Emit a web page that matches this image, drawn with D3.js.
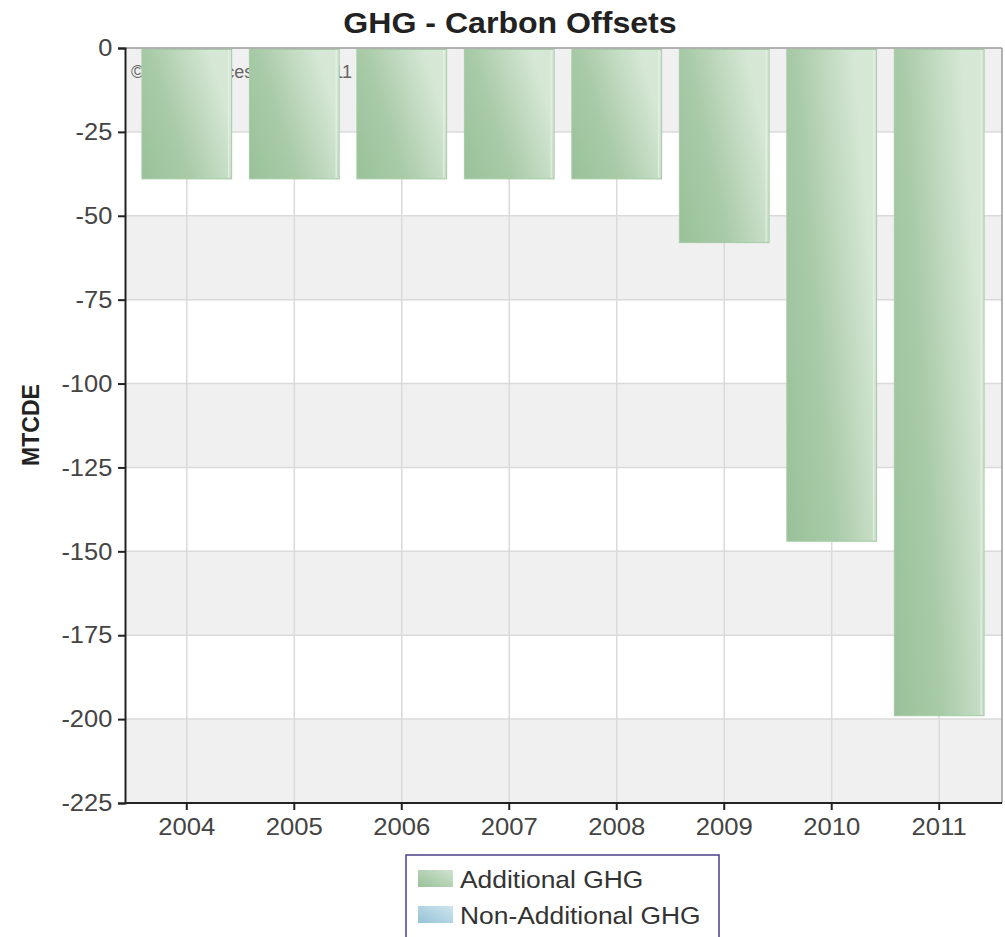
<!DOCTYPE html>
<html>
<head>
<meta charset="utf-8">
<script src="https://cdn.jsdelivr.net/npm/d3@7"></script>
<style>
  body { margin: 0; background: #fff; }
  svg { display: block; font-family: "Liberation Sans", Arial, sans-serif; }
</style>
</head>
<body>
<svg id="chart" width="1005" height="937"></svg>
<script>
const years = ["2004", "2005", "2006", "2007", "2008", "2009", "2010", "2011"];
const additionalGHG = [-39, -39, -39, -39, -39, -58, -147, -199];
const yTicks = [0, -25, -50, -75, -100, -125, -150, -175, -200, -225];
const seriesNames = ["Additional GHG", "Non-Additional GHG"];
const titleText = "GHG - Carbon Offsets";
const yLabel = "MTCDE";
const watermark = "\u00A9 Geosciences Group 2011";

const svg = d3.select("#chart");
const plot = { left: 125, right: 1002, top: 48, bottom: 803 };

const x = d3.scaleBand().domain(years).range([133, 993]).paddingInner(0.165).paddingOuter(0.083);
const y = d3.scaleLinear().domain([0, -225]).range([plot.top, plot.bottom]);

const defs = svg.append("defs");
const g1 = defs.append("linearGradient").attr("id", "gGreen")
  .attr("x1", "0").attr("y1", "1").attr("x2", "1").attr("y2", "0.55");
g1.append("stop").attr("offset", "0").attr("stop-color", "#99c199");
g1.append("stop").attr("offset", "0.45").attr("stop-color", "#a9cba8");
g1.append("stop").attr("offset", "1").attr("stop-color", "#d6e7d6");
const g2 = defs.append("linearGradient").attr("id", "gBlue")
  .attr("x1", "0").attr("y1", "1").attr("x2", "1").attr("y2", "0");
g2.append("stop").attr("offset", "0").attr("stop-color", "#94c3d6");
g2.append("stop").attr("offset", "1").attr("stop-color", "#cfe5ee");
const g3 = defs.append("linearGradient").attr("id", "gGreenL")
  .attr("x1", "0").attr("y1", "1").attr("x2", "1").attr("y2", "0");
g3.append("stop").attr("offset", "0").attr("stop-color", "#99c199");
g3.append("stop").attr("offset", "1").attr("stop-color", "#cfe3cf");

// plot background
svg.append("rect").attr("x", plot.left).attr("y", plot.top)
  .attr("width", plot.right - plot.left).attr("height", plot.bottom - plot.top)
  .attr("fill", "#fff");

// alternating bands
for (let i = 0; i < yTicks.length - 1; i++) {
  if (i % 2 === 0) {
    svg.append("rect").attr("x", plot.left).attr("y", y(yTicks[i]))
      .attr("width", plot.right - plot.left).attr("height", y(yTicks[i + 1]) - y(yTicks[i]))
      .attr("fill", "#f0f0f0");
  }
}

// grid lines
svg.append("g").selectAll("line.h").data(yTicks.slice(1, -1)).join("line")
  .attr("x1", plot.left).attr("x2", plot.right)
  .attr("y1", d => y(d)).attr("y2", d => y(d))
  .attr("stroke", "#dadada").attr("stroke-width", 1.5);
svg.append("g").selectAll("line.v").data(years).join("line")
  .attr("x1", d => x(d) + x.bandwidth() / 2).attr("x2", d => x(d) + x.bandwidth() / 2)
  .attr("y1", plot.top).attr("y2", plot.bottom)
  .attr("stroke", "#dadada").attr("stroke-width", 1.5);

// watermark
svg.append("text").attr("x", 131).attr("y", 78).attr("font-size", 18)
  .attr("fill", "#666").text(watermark);

// bars
const bars = svg.append("g").selectAll("g").data(years).join("g");
bars.append("rect")
  .attr("x", d => x(d))
  .attr("y", (d, i) => y(0) + 1.5)
  .attr("width", x.bandwidth())
  .attr("height", (d, i) => y(additionalGHG[i]) - y(0) - 1.5)
  .attr("fill", "url(#gGreen)")
  .attr("stroke", "#a6cba6").attr("stroke-width", 1);
bars.append("line")
  .attr("x1", d => x(d) + x.bandwidth() - 3).attr("x2", d => x(d) + x.bandwidth() - 3)
  .attr("y1", y(0) + 2).attr("y2", (d, i) => y(additionalGHG[i]) - 1)
  .attr("stroke", "#e4efe4").attr("stroke-width", 1.2);

// border top/right
svg.append("line").attr("x1", plot.left).attr("x2", plot.right).attr("y1", plot.top).attr("y2", plot.top)
  .attr("stroke", "#9a9a9a").attr("stroke-width", 1.5);
svg.append("line").attr("x1", plot.right).attr("x2", plot.right).attr("y1", plot.top).attr("y2", plot.bottom)
  .attr("stroke", "#9a9a9a").attr("stroke-width", 1.5);

// axes
const yAxis = d3.axisLeft(y).tickValues(yTicks).tickSize(7).tickPadding(5).tickFormat(d => String(d));
const ya = svg.append("g").attr("transform", `translate(${plot.left},0)`).call(yAxis);
ya.select(".domain").attr("stroke", "#222").attr("stroke-width", 2);
ya.selectAll(".tick line").attr("stroke", "#222").attr("stroke-width", 2);
ya.selectAll("text").attr("font-size", 24).attr("fill", "#444")
  .attr("font-family", "'Liberation Sans', Arial, sans-serif")
  .attr("transform", "scale(1.06,1)");

const xAxis = d3.axisBottom(x).tickSize(7).tickPadding(8).tickSizeOuter(0);
const xa = svg.append("g").attr("transform", `translate(0,${plot.bottom})`).call(xAxis);
xa.select(".domain").attr("d", `M${plot.left},0H${plot.right}`).attr("stroke", "#222").attr("stroke-width", 2);
xa.selectAll(".tick line").attr("stroke", "#222").attr("stroke-width", 2);
xa.selectAll("text").attr("font-size", 24).attr("fill", "#444")
  .attr("font-family", "'Liberation Sans', Arial, sans-serif")
  .attr("transform", "scale(1.07,1)");

// title
svg.append("text").attr("transform", "translate(510,33) scale(1.07,1)").attr("text-anchor", "middle")
  .attr("font-size", 30).attr("font-weight", "bold").attr("fill", "#222").text(titleText);

// y label
svg.append("text").attr("transform", "translate(39,425) rotate(-90)")
  .attr("text-anchor", "middle").attr("font-size", 23).attr("font-weight", "bold")
  .attr("fill", "#222").text(yLabel);

// legend
const lg = svg.append("g");
lg.append("rect").attr("x", 406).attr("y", 855).attr("width", 313).attr("height", 100)
  .attr("fill", "#fff").attr("stroke", "#4b3e8a").attr("stroke-width", 1.5);
const fills = ["url(#gGreenL)", "url(#gBlue)"];
const items = lg.selectAll("g.item").data(seriesNames).join("g")
  .attr("transform", (d, i) => `translate(418,${870 + i * 36})`);
items.append("rect").attr("width", 35).attr("height", 17).attr("fill", (d, i) => fills[i]);
items.append("text").attr("transform", "translate(42,18) scale(1.1,1)")
  .attr("font-size", 24).attr("fill", "#333").text(d => d);
</script>
</body>
</html>
